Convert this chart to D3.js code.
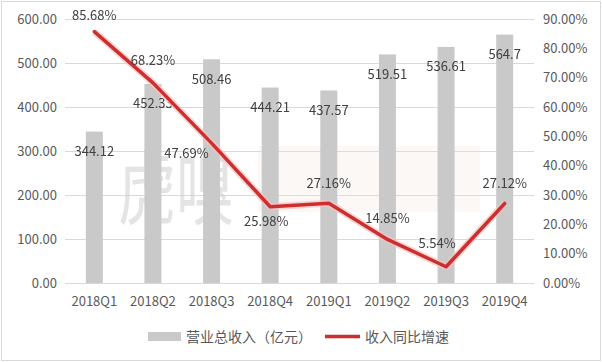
<!DOCTYPE html>
<html>
<head>
<meta charset="utf-8">
<script src="https://cdn.jsdelivr.net/npm/d3@7"></script>
<style>
  body { margin: 0; background: #fff; }
  text { font-family: "Noto Sans CJK SC", "Noto Sans", sans-serif; fill: #595959; }
</style>
</head>
<body>
<svg id="chart"></svg>
<script>
// chart data
var categories = ["2018Q1", "2018Q2", "2018Q3", "2018Q4", "2019Q1", "2019Q2", "2019Q3", "2019Q4"];
var revenue = [344.12, 452.33, 508.46, 444.21, 437.57, 519.51, 536.61, 564.7];
var revenueLabels = ["344.12", "452.33", "508.46", "444.21", "437.57", "519.51", "536.61", "564.7"];
var growth = [85.68, 68.23, 47.69, 25.98, 27.16, 14.85, 5.54, 27.12];
var leftTicks = [0, 100, 200, 300, 400, 500, 600];
var rightTicks = [0, 10, 20, 30, 40, 50, 60, 70, 80, 90];
var seriesNames = ["营业总收入（亿元）", "收入同比增速"];

// label nudges (px) for the growth line labels, as placed in the original
var growthLabelNudge = [[0, -17], [0, -23], [-25, 9], [-4, 14], [0, -21], [0, -22], [-9, -24], [0, -21]];

var width = 602, height = 362;
var margin = {top: 19, right: 68, bottom: 79, left: 65};

var svg = d3.select("#chart").attr("width", width).attr("height", height);

// outer frame
svg.append("rect")
  .attr("x", 1.5).attr("y", 1.5)
  .attr("width", width - 3).attr("height", height - 3)
  .attr("fill", "#fff").attr("stroke", "#d9d9d9");

var x = d3.scaleBand().domain(categories).range([margin.left, width - margin.right]).padding(0);
var yL = d3.scaleLinear().domain([0, 600]).range([height - margin.bottom, margin.top]);
var yR = d3.scaleLinear().domain([0, 90]).range([height - margin.bottom, margin.top]);

// gridlines
svg.append("g")
  .selectAll("line")
  .data(leftTicks)
  .join("line")
  .attr("x1", margin.left).attr("x2", width - margin.right)
  .attr("y1", d => Math.round(yL(d)) + 0.5).attr("y2", d => Math.round(yL(d)) + 0.5)
  .attr("stroke", "#d9d9d9").attr("stroke-width", 1);

// watermark
var wm = svg.append("g").attr("opacity", 0.5);
wm.append("rect")
  .attr("x", 258).attr("y", 146).attr("width", 222).attr("height", 66)
  .attr("fill", "#efe6dc").attr("opacity", 0.5);
wm.append("text")
  .attr("transform", "translate(118,218) scale(1,1.4)")
  .style("font-size", "58px")
  .style("fill", "#c8c8c8")
  .text("虎嗅");

// bars
var barW = 17;
svg.append("g")
  .selectAll("rect")
  .data(revenue)
  .join("rect")
  .attr("x", (d, i) => x(categories[i]) + x.bandwidth() / 2 - barW / 2)
  .attr("y", d => yL(d))
  .attr("width", barW)
  .attr("height", d => yL(0) - yL(d))
  .attr("fill", "#c9c9c9");

// bar labels (inside end)
svg.append("g")
  .selectAll("text")
  .data(revenue)
  .join("text")
  .attr("x", (d, i) => x(categories[i]) + x.bandwidth() / 2)
  .attr("y", d => yL(d) + 19)
  .attr("text-anchor", "middle")
  .attr("dominant-baseline", "central")
  .style("font-size", "13px")
  .style("fill", "#404040")
  .text((d, i) => revenueLabels[i]);

// growth line
var line = d3.line()
  .x((d, i) => x(categories[i]) + x.bandwidth() / 2)
  .y(d => yR(d));

svg.append("path")
  .datum(growth)
  .attr("d", line)
  .attr("fill", "none")
  .attr("stroke", "#f3c4c4")
  .attr("stroke-width", 7)
  .attr("stroke-linejoin", "round")
  .attr("opacity", 0.7);

svg.append("path")
  .datum(growth)
  .attr("d", line)
  .attr("fill", "none")
  .attr("stroke", "#cf2e2e")
  .attr("stroke-width", 3.5)
  .attr("stroke-linejoin", "round")
  .attr("stroke-linecap", "round");

// growth labels
svg.append("g")
  .selectAll("text")
  .data(growth)
  .join("text")
  .attr("x", (d, i) => x(categories[i]) + x.bandwidth() / 2 + growthLabelNudge[i][0])
  .attr("y", (d, i) => yR(d) + growthLabelNudge[i][1])
  .attr("text-anchor", "middle")
  .attr("dominant-baseline", "central")
  .style("font-size", "13px")
  .style("fill", "#404040")
  .text(d => d.toFixed(2) + "%");

// left axis
var axL = svg.append("g")
  .attr("transform", "translate(" + (margin.left - 8) + ",0)")
  .call(d3.axisLeft(yL).tickValues(leftTicks).tickFormat(d3.format(".2f")).tickSize(0).tickPadding(0));
axL.select(".domain").remove();
axL.selectAll("text").style("font-size", "13px").style("fill", "#595959").style("font-family", null);

// right axis
var axR = svg.append("g")
  .attr("transform", "translate(" + (width - margin.right + 9) + ",0)")
  .call(d3.axisRight(yR).tickValues(rightTicks).tickFormat(d => d.toFixed(2) + "%").tickSize(0).tickPadding(0));
axR.select(".domain").remove();
axR.selectAll("text").style("font-size", "13px").style("fill", "#595959").style("font-family", null);

// category axis
var axB = svg.append("g")
  .attr("transform", "translate(0," + (height - margin.bottom + 14) + ")")
  .call(d3.axisBottom(x).tickSize(0).tickPadding(0));
axB.select(".domain").remove();
axB.selectAll("text").style("font-size", "13px").style("fill", "#595959").style("font-family", null);

// legend
var lg = svg.append("g").attr("transform", "translate(0,336)");
lg.append("rect").attr("x", 148).attr("y", -4).attr("width", 33).attr("height", 9).attr("fill", "#c9c9c9");
lg.append("text").attr("x", 186).attr("y", 0).attr("dominant-baseline", "central")
  .style("font-size", "14px").text(seriesNames[0]);
lg.append("line").attr("x1", 325).attr("x2", 360).attr("y1", 0.5).attr("y2", 0.5)
  .attr("stroke", "#cf2e2e").attr("stroke-width", 3.5);
lg.append("text").attr("x", 365).attr("y", 0).attr("dominant-baseline", "central")
  .style("font-size", "14px").text(seriesNames[1]);
</script>
</body>
</html>
